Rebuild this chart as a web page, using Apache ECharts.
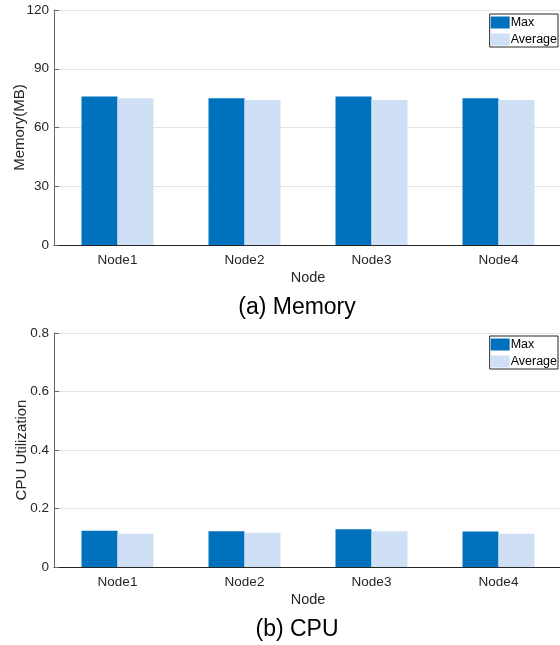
<!DOCTYPE html>
<html>
<head>
<meta charset="utf-8">
<script src="https://cdn.jsdelivr.net/npm/echarts@6/dist/echarts.min.js"></script>
<style>html,body{margin:0;padding:0;background:#fff;}#c{width:560px;height:645px;}</style>
</head>
<body>
<div id="c"></div>
<script>
var categories = ['Node1', 'Node2', 'Node3', 'Node4'];
var memMax = [75.8, 74.9, 75.8, 74.9];
var memAvg = [74.9, 74.0, 74.0, 74.0];
var cpuMax = [0.124, 0.122, 0.129, 0.121];
var cpuAvg = [0.114, 0.117, 0.122, 0.114];
var memTicks = {min: 0, max: 120, interval: 30};
var cpuTicks = {min: 0, max: 0.8, interval: 0.2};

var FONT = 'Liberation Sans, Arial, Helvetica, sans-serif';
var MAXC = '#0072BD';
var AVGC = '#CFE0F6';

function xAxisOf(gi) {
  return {
    type: 'category', gridIndex: gi, data: categories,
    name: 'Node', nameLocation: 'middle', nameGap: 25, nameMoveOverlap: false,
    nameTextStyle: {fontFamily: FONT, fontSize: 14.5, color: '#262626'},
    axisLine: {lineStyle: {color: '#262626', width: 1}},
    axisTick: {alignWithLabel: true, inside: true, length: 5, lineStyle: {color: '#262626'}},
    axisLabel: {fontFamily: FONT, fontSize: 13.5, color: '#262626', margin: 8},
    splitLine: {show: false}
  };
}
function yAxisOf(gi, name, t, gap) {
  return {
    type: 'value', gridIndex: gi, min: t.min, max: t.max, interval: t.interval,
    name: name, nameLocation: 'middle', nameGap: gap, nameMoveOverlap: false,
    nameTextStyle: {fontFamily: FONT, fontSize: 15, color: '#262626'},
    axisLine: {show: true, lineStyle: {color: '#666', width: 1}},
    axisTick: {show: true, inside: true, length: 5, lineStyle: {color: '#666'}},
    axisLabel: {fontFamily: FONT, fontSize: 13.5, color: '#262626', margin: 5},
    splitLine: {show: true, lineStyle: {color: '#e3e3e3', width: 1}}
  };
}
function legendOf(top) {
  return {
    data: ['Max', 'Average'], orient: 'vertical', right: 2, top: top,
    icon: 'rect', itemWidth: 19, itemHeight: 12, itemGap: 4,
    padding: [2, 1, 1, 1], borderColor: '#262626', borderWidth: 1,
    backgroundColor: '#fff', selectedMode: false,
    textStyle: {fontFamily: FONT, fontSize: 12.5, color: '#000', padding: [0, 0, 0, -4]}
  };
}
function barOf(name, data, color, gi) {
  return {
    type: 'bar', name: name, data: data, xAxisIndex: gi, yAxisIndex: gi,
    barWidth: 36, barGap: '0%', itemStyle: {color: color}, silent: true
  };
}

var chart = echarts.init(document.getElementById('c'), null, {renderer: 'canvas'});
chart.setOption({
  animation: false,
  backgroundColor: '#fff',
  grid: [
    {left: 54, right: -2, top: 10, height: 235, outerBoundsMode: 'none', containLabel: false},
    {left: 54, right: -2, top: 333, height: 234, outerBoundsMode: 'none', containLabel: false}
  ],
  xAxis: [xAxisOf(0), xAxisOf(1)],
  yAxis: [yAxisOf(0, 'Memory(MB)', memTicks, 27), yAxisOf(1, 'CPU Utilization', cpuTicks, 25)],
  legend: [legendOf(14), legendOf(336)],
  series: [
    barOf('Max', memMax, MAXC, 0),
    barOf('Average', memAvg, AVGC, 0),
    barOf('Max', cpuMax, MAXC, 1),
    barOf('Average', cpuAvg, AVGC, 1)
  ],
  graphic: [
    {type: 'text', x: 297, y: 308, style: {text: '(a) Memory', fontFamily: FONT, fontSize: 23, fill: '#000', textAlign: 'center', textVerticalAlign: 'middle'}},
    {type: 'text', x: 297, y: 630, style: {text: '(b) CPU', fontFamily: FONT, fontSize: 23, fill: '#000', textAlign: 'center', textVerticalAlign: 'middle'}}
  ]
});
</script>
</body>
</html>
